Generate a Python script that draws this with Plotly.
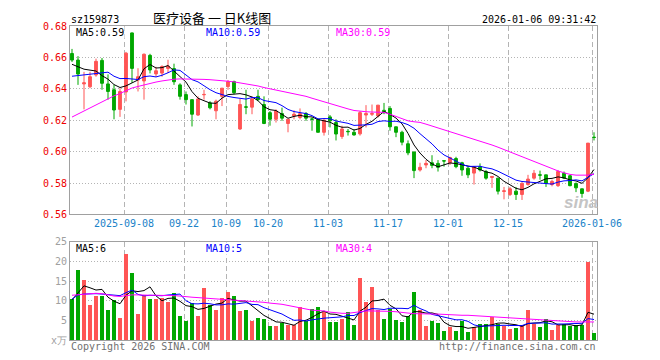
import plotly.graph_objects as go
import pandas as pd

# ---------------- data ----------------
holidays = ["2025-10-01", "2025-10-02", "2025-10-03", "2025-10-06", "2025-10-07",
            "2025-10-08", "2026-01-01", "2026-01-02"]
dates = [d.strftime("%Y-%m-%d") for d in pd.bdate_range("2025-08-26", "2026-01-06")
         if d.strftime("%Y-%m-%d") not in holidays]

open_ = [0.6625, 0.6583, 0.6431, 0.6413, 0.6488, 0.6581, 0.6431, 0.6394, 0.6269, 0.6380,
         0.6756, 0.6456, 0.6450, 0.6613, 0.6495, 0.6500, 0.6530, 0.6529, 0.6425, 0.6363,
         0.6331, 0.6233, 0.6362, 0.6310, 0.6260, 0.6352, 0.6415, 0.6446, 0.6144, 0.6285,
         0.6283, 0.6352, 0.6300, 0.6248, 0.6206, 0.6242, 0.6179, 0.6227, 0.6217, 0.6242,
         0.6208, 0.6206, 0.6123, 0.6221, 0.6185, 0.6096, 0.6129, 0.6123, 0.6113, 0.6233,
         0.6238, 0.6227, 0.6263, 0.6275, 0.6158, 0.6123, 0.6050, 0.5998, 0.5883, 0.5915,
         0.5929, 0.5925, 0.5942, 0.5929, 0.5956, 0.5929, 0.5894, 0.5863, 0.5904, 0.5873,
         0.5835, 0.5831, 0.5746, 0.5727, 0.5748, 0.5727, 0.5790, 0.5831, 0.5852, 0.5852,
         0.5790, 0.5783, 0.5862, 0.5846, 0.5796, 0.5763, 0.5748, 0.6092]
high = [0.6654, 0.6608, 0.6508, 0.6508, 0.6592, 0.6596, 0.6492, 0.6425, 0.6404, 0.6635,
        0.6758, 0.6531, 0.6625, 0.6623, 0.6540, 0.6550, 0.6585, 0.6560, 0.6435, 0.6383,
        0.6331, 0.6352, 0.6394, 0.6321, 0.6331, 0.6404, 0.6456, 0.6452, 0.6338, 0.6394,
        0.6352, 0.6394, 0.6352, 0.6258, 0.6269, 0.6280, 0.6206, 0.6263, 0.6275, 0.6252,
        0.6217, 0.6206, 0.6206, 0.6233, 0.6206, 0.6165, 0.6144, 0.6144, 0.6258, 0.6296,
        0.6300, 0.6296, 0.6310, 0.6290, 0.6158, 0.6133, 0.6071, 0.5998, 0.5929, 0.5946,
        0.5977, 0.5946, 0.5942, 0.5967, 0.5967, 0.5935, 0.5904, 0.5908, 0.5925, 0.5883,
        0.5842, 0.5831, 0.5775, 0.5775, 0.5775, 0.5810, 0.5852, 0.5883, 0.5879, 0.5852,
        0.5821, 0.5883, 0.5873, 0.5852, 0.5804, 0.5763, 0.6054, 0.6123]
low = [0.6571, 0.6425, 0.6269, 0.6404, 0.6477, 0.6394, 0.6331, 0.6206, 0.6221, 0.6320,
       0.6438, 0.6383, 0.6331, 0.6498, 0.6477, 0.6477, 0.6500, 0.6425, 0.6331, 0.6300,
       0.6160, 0.6227, 0.6331, 0.6269, 0.6206, 0.6290, 0.6394, 0.6365, 0.6138, 0.6238,
       0.6238, 0.6321, 0.6175, 0.6165, 0.6185, 0.6196, 0.6123, 0.6206, 0.6206, 0.6196,
       0.6133, 0.6123, 0.6102, 0.6154, 0.6071, 0.6081, 0.6102, 0.6102, 0.6102, 0.6154,
       0.6227, 0.6217, 0.6238, 0.6133, 0.6092, 0.6040, 0.5977, 0.5831, 0.5873, 0.5894,
       0.5894, 0.5873, 0.5904, 0.5915, 0.5894, 0.5846, 0.5831, 0.5790, 0.5873, 0.5821,
       0.5769, 0.5727, 0.5696, 0.5717, 0.5692, 0.5692, 0.5783, 0.5821, 0.5821, 0.5775,
       0.5779, 0.5775, 0.5825, 0.5779, 0.5742, 0.5706, 0.5742, 0.6071]
close = [0.6583, 0.6494, 0.6438, 0.6477, 0.6575, 0.6435, 0.6383, 0.6265, 0.6383, 0.6627,
         0.6530, 0.6477, 0.6620, 0.6520, 0.6515, 0.6542, 0.6544, 0.6445, 0.6352, 0.6331,
         0.6238, 0.6335, 0.6364, 0.6279, 0.6321, 0.6404, 0.6446, 0.6375, 0.6300, 0.6283,
         0.6335, 0.6331, 0.6179, 0.6206, 0.6258, 0.6213, 0.6206, 0.6238, 0.6242, 0.6213,
         0.6206, 0.6123, 0.6200, 0.6196, 0.6112, 0.6144, 0.6127, 0.6106, 0.6248, 0.6242,
         0.6242, 0.6296, 0.6248, 0.6158, 0.6123, 0.6060, 0.5992, 0.5879, 0.5900, 0.5925,
         0.5912, 0.5900, 0.5940, 0.5962, 0.5904, 0.5883, 0.5852, 0.5904, 0.5883, 0.5831,
         0.5842, 0.5748, 0.5750, 0.5763, 0.5727, 0.5796, 0.5825, 0.5862, 0.5850, 0.5800,
         0.5810, 0.5873, 0.5831, 0.5783, 0.5769, 0.5733, 0.6054, 0.6090]
volume = [10.4, 17.75, 15.25, 9.0, 11.25, 11.25, 7.75, 10.25, 5.7, 22.0,
          17.0, 6.75, 11.5, 10.5, 10.5, 10.75, 9.75, 12.0, 6.25, 5.0,
          9.5, 6.25, 13.25, 9.0, 7.75, 10.8, 12.25, 11.25, 7.5, 7.75,
          4.8, 5.75, 5.5, 3.5, 3.5, 4.33, 3.75, 3.75, 8.33, 5.0,
          7.9, 8.5, 7.1, 4.6, 4.6, 5.5, 7.1, 3.75, 15.8, 9.6,
          13.5, 7.67, 5.5, 7.9, 5.2, 4.6, 6.25, 12.25, 7.67, 3.5,
          4.83, 4.33, 2.33, 3.33, 2.33, 4.83, 2.08, 3.33, 4.17, 4.0,
          5.83, 4.17, 3.5, 2.83, 3.08, 3.75, 7.75, 4.17, 3.25, 5.5,
          2.58, 3.75, 4.17, 3.5, 3.92, 3.92, 19.8, 1.75]

# moving-average values before enough in-window data exist
ma5_head = [0.6556, 0.6540, 0.6525, 0.6519]
ma10_head = [0.6480, 0.6485, 0.6490, 0.6494, 0.6498, 0.6503, 0.6506, 0.6480, 0.6465]
ma30_price = [0.6220, 0.6240, 0.6260, 0.6280, 0.6300, 0.6320, 0.6338, 0.6355, 0.6370, 0.6388,
              0.6405, 0.6415, 0.6425, 0.6435, 0.6443, 0.6450, 0.6456, 0.6461, 0.6463, 0.6463,
              0.6462, 0.6462, 0.6460, 0.6458, 0.6456, 0.6452, 0.6448, 0.6444, 0.6438, 0.6432,
              0.6425, 0.6418, 0.6408, 0.6400, 0.6392, 0.6385, 0.6377, 0.6370, 0.6363, 0.6352,
              0.6340, 0.6328, 0.6318, 0.6305, 0.6295, 0.6283, 0.6272, 0.6262, 0.6256, 0.6254,
              0.6252, 0.6250, 0.6250, 0.6238, 0.6225, 0.6210, 0.6196, 0.6190, 0.6186, 0.6175,
              0.6163, 0.6150, 0.6138, 0.6125, 0.6115, 0.6104, 0.6092, 0.6081, 0.6068, 0.6056,
              0.6042, 0.6028, 0.6013, 0.6000, 0.5985, 0.5968, 0.5950, 0.5935, 0.5920, 0.5905,
              0.5890, 0.5877, 0.5865, 0.5855, 0.5850, 0.5849, 0.5850, 0.5856]
vma5_head = [10.2, 12.0, 13.8, 13.3]
vma10_head = [10.4, 11.5, 11.7, 11.8, 11.8, 11.7, 11.6, 11.5, 11.3]
vma30 = [11.4, 11.5, 11.6, 11.8, 11.9, 11.8, 11.5, 11.2, 11.1, 11.3,
         11.5, 11.5, 11.4, 11.4, 11.4, 11.4, 11.4, 11.3, 11.2, 11.0,
         10.9, 10.8, 10.7, 10.6, 10.5, 10.4, 10.3, 10.2, 10.0, 9.9,
         9.8, 9.7, 9.6, 9.4, 9.3, 9.1, 8.8, 8.5, 8.1, 7.8,
         7.6, 7.5, 7.4, 7.1, 6.9, 6.8, 6.8, 7.0, 7.3, 7.4,
         7.4, 7.4, 7.3, 7.3, 7.2, 7.0, 6.8, 6.7, 6.7, 6.6,
         6.6, 6.6, 6.5, 6.4, 6.4, 6.3, 6.3, 6.2, 6.1, 6.0,
         5.9, 5.8, 5.8, 5.7, 5.6, 5.5, 5.4, 5.3, 5.1, 5.0,
         4.9, 4.8, 4.8, 4.7, 4.6, 4.6, 4.6, 4.6]

tick_dates = ["2025-09-08", "2025-09-22", "2025-10-09", "2025-10-20", "2025-11-03",
              "2025-11-17", "2025-12-01", "2025-12-15", "2026-01-06"]
tick_labels = ["2025-09-08", "09-22", "10-09", "10-20", "11-03", "11-17", "12-01", "12-15", "2026-01-06"]
price_ticks = [0.56, 0.58, 0.60, 0.62, 0.64, 0.66, 0.68]
vol_ticks = [0, 5, 10, 15, 20, 25]
vol_tick_labels = ["x万", "5", "10", "15", "20", "25"]

# ---------------- derived ----------------
RED = "#ff5555"
GREEN = "#00a800"
idx = list(range(len(dates)))


def moving_avg(values, n, head):
    s = pd.Series(values).rolling(n).mean().tolist()
    return head + s[len(head):]


ma5 = moving_avg(close, 5, ma5_head)
ma10 = moving_avg(close, 10, ma10_head)
vma5 = moving_avg(volume, 5, vma5_head)
vma10 = moving_avg(volume, 10, vma10_head)
vol_colors = [RED if c >= o else GREEN for o, c in zip(open_, close)]

grid_x = [dates.index(d) - 1 / 3 for d in tick_dates]

fig = go.Figure()
fig.add_trace(go.Candlestick(
    x=idx, open=open_, high=high, low=low, close=close,
    increasing=dict(line=dict(color=RED, width=1), fillcolor=RED),
    decreasing=dict(line=dict(color=GREEN, width=1), fillcolor=GREEN),
    whiskerwidth=0, xaxis="x", yaxis="y", hoverinfo="skip"))
for vals, col in [(ma5, "#000000"), (ma10, "#0000ff"), (ma30_price, "#ff00ff")]:
    fig.add_trace(go.Scatter(x=idx, y=vals, mode="lines", line=dict(color=col, width=1),
                             xaxis="x", yaxis="y", hoverinfo="skip"))
fig.add_trace(go.Bar(x=idx, y=volume, marker=dict(color=vol_colors, line=dict(width=0)),
                     width=0.83, xaxis="x2", yaxis="y2", hoverinfo="skip"))
for vals, col in [(vma5, "#000000"), (vma10, "#0000ff"), (vma30, "#ff00ff")]:
    fig.add_trace(go.Scatter(x=idx, y=vals, mode="lines", line=dict(color=col, width=1),
                             xaxis="x2", yaxis="y2", hoverinfo="skip"))

MONO = "DejaVu Sans Mono"
axis_line = dict(showline=True, mirror=True, linecolor="#a0a0a0", linewidth=1, zeroline=False, ticks="")
# the page places the figure 8px in from the top-left corner, so margins compensate
fig.update_layout(
    width=660, height=360,
    margin=dict(l=62, r=71, t=12, b=28),
    paper_bgcolor="white", plot_bgcolor="white",
    showlegend=False, hovermode=False,
    boxgap=0.33,
    bargap=0,
    xaxis=dict(domain=[0, 1], anchor="y", range=[-1 / 3, 87.5],
               tickmode="array", tickvals=grid_x, ticktext=tick_labels,
               tickfont=dict(family=MONO, size=10, color="#1a82c8"),
               showgrid=True, gridcolor="#b4b4b4", griddash="5px,3px", gridwidth=1,
               rangeslider=dict(visible=False), **axis_line),
    yaxis=dict(domain=[0.4, 1], anchor="x", range=[0.56, 0.68],
               tickmode="array", tickvals=price_ticks,
               ticktext=["%.2f" % v for v in price_ticks],
               tickfont=dict(family=MONO, size=10, color="#ee0000"),
               showgrid=True, gridcolor="#b4b4b4", griddash="1px,2px", gridwidth=1,
               **axis_line),
    xaxis2=dict(domain=[0, 1], anchor="y2", matches="x", range=[-1 / 3, 87.5],
                tickmode="array", tickvals=grid_x, showticklabels=False,
                showgrid=True, gridcolor="#b4b4b4", griddash="5px,3px", gridwidth=1,
                **axis_line),
    yaxis2=dict(domain=[0, 0.3125], anchor="x2", range=[0, 25],
                tickmode="array", tickvals=vol_ticks, ticktext=vol_tick_labels,
                tickfont=dict(family=MONO, size=10, color="#a0a0a0"),
                showgrid=True, gridcolor="#b4b4b4", griddash="1px,2px", gridwidth=1,
                **axis_line),
)


def ann(text, x, y, color="#000000", xanchor="left", size=10, family=MONO, bg=None):
    fig.add_annotation(text=text, x=x, y=y, xref="paper", yref="paper", showarrow=False,
                       xanchor=xanchor, yanchor="middle", bgcolor=bg, borderpad=0,
                       font=dict(family=family, size=size, color=color))


def px(xp):
    return (xp - 70) / 527


def py(yp):
    return (340 - yp) / 320


W = "white"
ann("sz159873", px(70), py(13))
ann("医疗设备 一 日K线图", px(212), py(11.8), xanchor="center", size=13, family="Noto Sans CJK SC")
ann("2026-01-06 09:31:42", px(597), py(13), xanchor="right")
ann("MA5:0.59", px(75), py(27), bg=W)
ann("MA10:0.59", px(205), py(27), color="#0000ff", bg=W)
ann("MA30:0.59", px(335), py(27), color="#ff00ff", bg=W)
ann("MA5:6", px(75), py(247), bg=W)
ann("MA10:5", px(205), py(247), color="#0000ff", bg=W)
ann("MA30:4", px(335), py(247), color="#ff00ff", bg=W)
ann("Copyright 2026 SINA.COM", px(70), py(347), color="#707070")
ann("http://finance.sina.com.cn", px(597), py(347), color="#707070", xanchor="right")
ann("<b><i>sina</i></b>", px(581), py(200), color="#c4c4c4", xanchor="center", size=17,
    family="Liberation Sans")

fig.write_html("out.html")
